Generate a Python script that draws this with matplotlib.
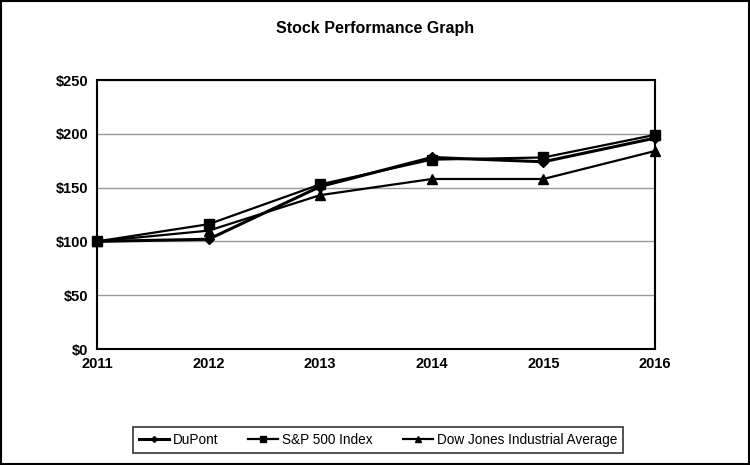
import matplotlib
matplotlib.use("Agg")
import matplotlib.pyplot as plt
from matplotlib.patches import Rectangle

years = ["2011", "2012", "2013", "2014", "2015", "2016"]
dupont = [100, 102, 151, 178, 174, 196]
sp500 = [100, 116, 153, 176, 178, 199]
djia = [100, 110, 143, 158, 158, 184]
yticks = [0, 50, 100, 150, 200, 250]
ylabels = ["$0", "$50", "$100", "$150", "$200", "$250"]

plt.rcParams['font.family'] = ['Liberation Sans', 'DejaVu Sans']

fig = plt.figure(figsize=(7.5, 4.65), dpi=100)
W, H = 750, 465
ax = fig.add_axes([97 / W, 1 - 349 / H, (655 - 97) / W, (349 - 80) / H])
x = list(range(len(years)))
ax.plot(x, dupont, color='black', lw=2.2, marker='D', ms=5, label='DuPont', zorder=3, clip_on=False)
ax.plot(x, sp500, color='black', lw=1.6, marker='s', ms=7, label='S&P 500 Index', zorder=3, clip_on=False)
ax.plot(x, djia, color='black', lw=1.6, marker='^', ms=7, label='Dow Jones Industrial Average', zorder=3, clip_on=False)

ax.set_xlim(0, len(years) - 1)
ax.set_ylim(0, 250)
ax.set_yticks(yticks)
ax.set_yticklabels(ylabels, fontsize=10.5, fontweight='bold')
ax.set_xticks(x)
ax.set_xticklabels(years, fontsize=10.5, fontweight='bold')
ax.yaxis.grid(True, color='#999999', lw=1)
ax.set_axisbelow(True)
for s in ['left', 'right', 'top', 'bottom']:
    ax.spines[s].set_linewidth(1.5)
    ax.spines[s].set_color('black')
    ax.spines[s].set_zorder(2)
ax.tick_params(axis='both', length=0, pad=6)

fig.text(0.5, 1 - 28 / H, "Stock Performance Graph", ha='center', va='center',
         fontsize=11.5, fontweight='bold')

leg = fig.legend(loc='center', bbox_to_anchor=(378 / W, 1 - 440 / H), ncol=3,
                 frameon=True, fancybox=False, edgecolor='black', fontsize=9.8,
                 handlelength=2.2, markerscale=0.6, columnspacing=2.2,
                 handletextpad=0.3, borderpad=0.45, borderaxespad=0)
leg.get_frame().set_linewidth(1.2)

fig.patches.append(Rectangle((1 / W, 1 / H), 1 - 2 / W, 1 - 2 / H, transform=fig.transFigure,
                             fill=False, edgecolor='black', lw=1.5))
fig.savefig("out.png", dpi=100)
